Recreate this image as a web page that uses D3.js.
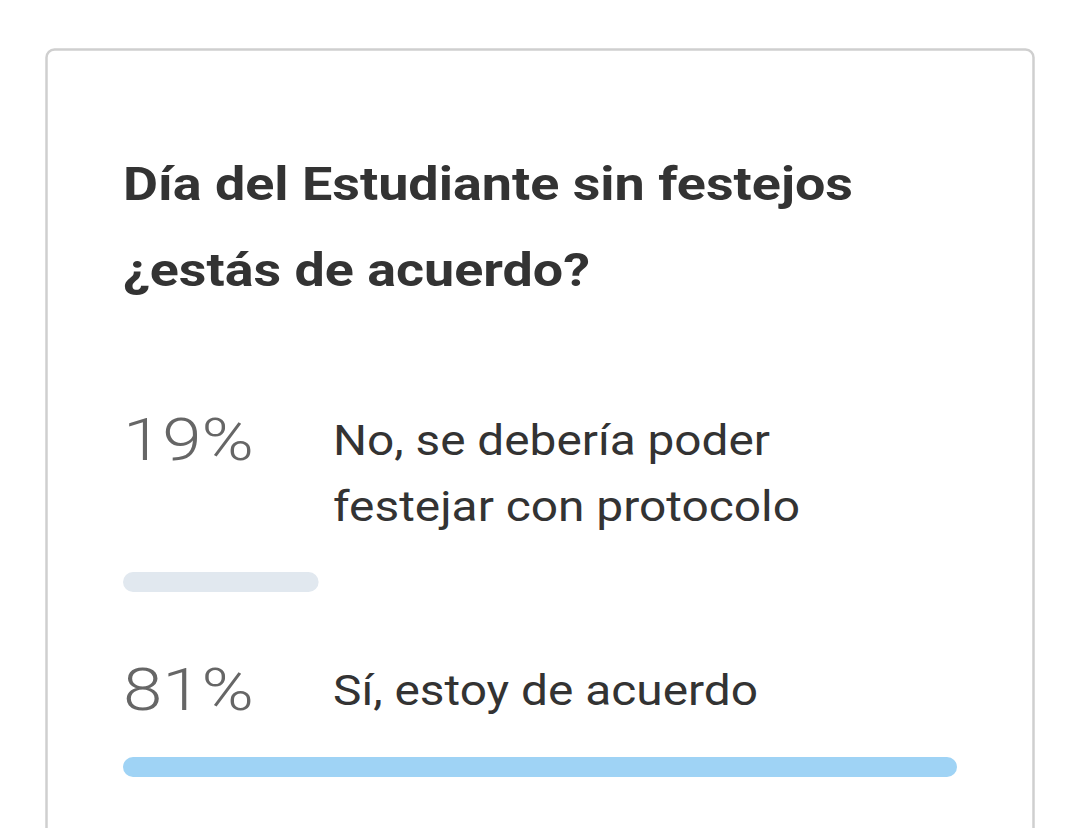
<!DOCTYPE html>
<html>
<head>
<meta charset="utf-8">
<script src="https://cdn.jsdelivr.net/npm/d3@7"></script>
<style>
  body { margin: 0; background: #fff; }
</style>
</head>
<body>
<script>
const titleLines = ["Día del Estudiante sin festejos", "¿estás de acuerdo?"];
const percents = [19, 81];
const labels = [
    ["No, se debería poder", "festejar con protocolo"],
    ["Sí, estoy de acuerdo"]
];
const barColors = ["#e1e8ef", "#9fd3f5"];

const width = 1080, height = 828;
const svg = d3.select("body").append("svg")
    .attr("width", width)
    .attr("height", height);

// the reference font runs wider than Roboto, so stretch text to its measured widths
const titleWidths = [730, 467];
const labelWidths = [[437, 467], [425]];
const pctWidth = 131;

// card outline, runs off the bottom of the picture
svg.append("rect")
    .attr("x", 46.5).attr("y", 49.5)
    .attr("width", 987).attr("height", 900)
    .attr("rx", 8)
    .attr("fill", "#fff")
    .attr("stroke", "#cfcfcf")
    .attr("stroke-width", 2.5);

svg.selectAll("text.title")
    .data(titleLines)
    .enter().append("text")
    .attr("class", "title")
    .attr("x", 123)
    .attr("y", (d, i) => 200 + i * 86)
    .attr("font-family", "Roboto")
    .attr("font-weight", 700)
    .attr("font-size", 47)
    .attr("textLength", (d, i) => titleWidths[i])
    .attr("lengthAdjust", "spacingAndGlyphs")
    .attr("fill", "#333")
    .text(d => d);

const x = d3.scaleLinear()
    .domain([0, d3.max(percents)])
    .range([0, 834]);

const rowTop = [0, 250];

const rows = svg.selectAll("g.row")
    .data(percents)
    .enter().append("g")
    .attr("class", "row")
    .attr("transform", (d, i) => `translate(123, ${rowTop[i]})`);

rows.append("text")
    .attr("x", 0).attr("y", 460)
    .attr("font-family", "Roboto")
    .attr("font-weight", 300)
    .attr("font-size", 60)
    .attr("textLength", pctWidth)
    .attr("lengthAdjust", "spacingAndGlyphs")
    .attr("fill", "#666")
    .text(d => d + "%");

rows.each(function(d, i) {
    d3.select(this).selectAll("text.lbl")
        .data(labels[i])
        .enter().append("text")
        .attr("class", "lbl")
        .attr("x", 210)
        .attr("y", (t, j) => 455 + j * 66)
        .attr("font-family", "Roboto")
        .attr("font-size", 42)
        .attr("textLength", (t, j) => labelWidths[i][j])
        .attr("lengthAdjust", "spacingAndGlyphs")
        .attr("fill", "#333")
        .text(t => t);
});

const barY = [572, 507];
rows.append("rect")
    .attr("x", 0)
    .attr("y", (d, i) => barY[i])
    .attr("width", d => x(d))
    .attr("height", 20)
    .attr("rx", 10)
    .attr("fill", (d, i) => barColors[i]);
</script>
</body>
</html>
